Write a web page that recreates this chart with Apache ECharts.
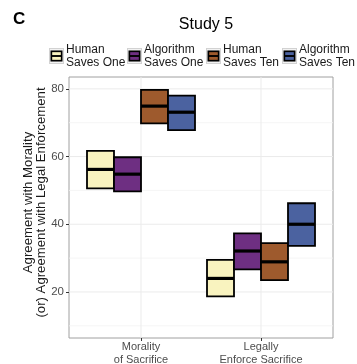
<!DOCTYPE html>
<html>
<head>
<meta charset="utf-8">
<script src="https://cdn.jsdelivr.net/npm/echarts@6/dist/echarts.min.js"></script>
<style>
html,body{margin:0;padding:0;background:#fff;}
#chart{width:357px;height:364px;}
</style>
</head>
<body>
<div id="chart"></div>
<script>
// ---- Data ----
const categories = ['Morality\nof Sacrifice', 'Legally\nEnforce Sacrifice'];
const groupNames = ['Human\nSaves One', 'Algorithm\nSaves One', 'Human\nSaves Ten', 'Algorithm\nSaves Ten'];
const groupColors = ['#F9F3BF', '#6E2F82', '#9E5A2D', '#4B62A0'];
// [lower, mean, upper] per category
const humanSavesOne     = [[50.6, 56.2, 61.7], [18.7, 24.0, 29.5]];
const algorithmSavesOne = [[49.7, 54.8, 59.8], [26.7, 32.1, 37.3]];
const humanSavesTen     = [[69.8, 74.9, 79.7], [23.5, 28.9, 34.4]];
const algorithmSavesTen = [[67.8, 73.1, 78.0], [33.6, 40.0, 46.2]];
const groupData = [humanSavesOne, algorithmSavesOne, humanSavesTen, algorithmSavesTen];
const yTicks = [20, 40, 60, 80];
const yMinorGrid = [10, 30, 50, 70];

// ---- Layout helpers ----
const dodgeWidth = 0.9;
const boxWidth = dodgeWidth / groupNames.length;
const FONT = "'Liberation Sans', Arial, Helvetica, sans-serif";
const legendLefts = [49, 127, 206, 282];

function legendIcon(color) {
  const svg = '<svg xmlns="http://www.w3.org/2000/svg" width="16" height="17" viewBox="0 0 16 17">' +
    '<rect x="0.5" y="0.5" width="15" height="16" fill="#f2f2f2" stroke="#d0d0d0" stroke-width="1"/>' +
    '<rect x="2.5" y="3.5" width="11" height="10" fill="' + color + '" stroke="#000" stroke-width="1.8"/>' +
    '<line x1="2.5" y1="8.5" x2="13.5" y2="8.5" stroke="#000" stroke-width="2"/>' +
    '</svg>';
  return 'image://data:image/svg+xml;charset=utf-8,' + encodeURIComponent(svg);
}

const series = [];

// gridlines
series.push({
  type: 'custom', name: 'gridH', z: 0, silent: true,
  data: yTicks.map(v => [v, 1]).concat(yMinorGrid.map(v => [v, 0])),
  renderItem: function (params, api) {
    const v = api.value(0), major = api.value(1);
    const p1 = api.coord([0.4, v]), p2 = api.coord([2.6, v]);
    return { type: 'line', shape: { x1: p1[0], y1: p1[1], x2: p2[0], y2: p2[1] },
      style: { stroke: major ? '#ebebeb' : '#f3f3f3', lineWidth: major ? 1 : 0.8 } };
  }
});
series.push({
  type: 'custom', name: 'gridV', z: 0, silent: true,
  data: categories.map((c, i) => [i + 1]),
  renderItem: function (params, api) {
    const v = api.value(0);
    const p1 = api.coord([v, 6.4]), p2 = api.coord([v, 83.5]);
    return { type: 'line', shape: { x1: p1[0], y1: p1[1], x2: p2[0], y2: p2[1] },
      style: { stroke: '#ebebeb', lineWidth: 1 } };
  }
});

groupNames.forEach(function (name, gi) {
  const offset = -dodgeWidth / 2 + boxWidth * (gi + 0.5);
  series.push({
    type: 'custom',
    name: name,
    z: 2,
    itemStyle: { color: groupColors[gi] },
    data: groupData[gi].map((d, ci) => [ci + 1 + offset, d[0], d[1], d[2]]),
    encode: { x: 0, y: [1, 2, 3] },
    renderItem: function (params, api) {
      const x = api.value(0);
      const lo = api.value(1), mean = api.value(2), hi = api.value(3);
      const tl = api.coord([x - boxWidth / 2, hi]);
      const br = api.coord([x + boxWidth / 2, lo]);
      const m = api.coord([x, mean]);
      return {
        type: 'group',
        children: [
          { type: 'rect', shape: { x: tl[0], y: tl[1], width: br[0] - tl[0], height: br[1] - tl[1] },
            style: { fill: groupColors[gi], stroke: '#000', lineWidth: 1.8 } },
          { type: 'line', shape: { x1: tl[0], y1: m[1], x2: br[0], y2: m[1] },
            style: { stroke: '#000', lineWidth: 3.2 } }
        ]
      };
    }
  });
});

const chart = echarts.init(document.getElementById('chart'), null, { renderer: 'canvas' });
chart.setOption({
  animation: false,
  backgroundColor: '#fff',
  textStyle: { fontFamily: FONT },
  title: [
    { text: 'C', left: 8, top: 6, textStyle: { fontFamily: FONT, fontSize: 17, fontWeight: 'bold', color: '#000' } },
    { text: 'Study 5', left: 201, top: 12, textAlign: 'center',
      textStyle: { fontFamily: FONT, fontSize: 16, fontWeight: 'normal', color: '#000' } }
  ],
  legend: groupNames.map((n, i) => ({
    data: [{ name: n, icon: legendIcon(groupColors[i]) }],
    left: legendLefts[i], top: 43,
    itemWidth: 15, itemHeight: 17, itemGap: 0,
    padding: 0,
    selectedMode: false,
    textStyle: { fontFamily: FONT, fontSize: 12, color: '#1a1a1a', lineHeight: 13, padding: [0, 0, 0, -3] }
  })),
  grid: { left: 69, right: 24, top: 77, bottom: 26, show: true, borderColor: '#a0a0a0', borderWidth: 1,
    containLabel: false, outerBoundsMode: 'none' },
  xAxis: {
    type: 'value', min: 0.4, max: 2.6,
    axisLine: { show: false },
    splitLine: { show: false },
    axisTick: { show: true, customValues: [1, 2], length: 3, lineStyle: { color: '#333' } },
    axisLabel: { customValues: [1, 2], margin: 3, fontSize: 11, color: '#4d4d4d', lineHeight: 12.5, fontFamily: FONT,
      formatter: v => categories[Math.round(v) - 1] || '' }
  },
  yAxis: {
    type: 'value', min: 6.4, max: 83.5,
    name: 'Agreement with Morality\n(or) Agreement with Legal Enforcement',
    nameLocation: 'middle', nameGap: 21, nameMoveOverlap: false,
    nameTextStyle: { fontFamily: FONT, fontSize: 13.2, color: '#1a1a1a', lineHeight: 13, padding: [0, 0, 0, 10] },
    axisLine: { show: false },
    splitLine: { show: false },
    axisTick: { show: true, customValues: yTicks, length: 3, lineStyle: { color: '#333' } },
    axisLabel: { customValues: yTicks, margin: 5, fontSize: 11.5, color: '#4d4d4d', fontFamily: FONT }
  },
  series: series
});
</script>
</body>
</html>
